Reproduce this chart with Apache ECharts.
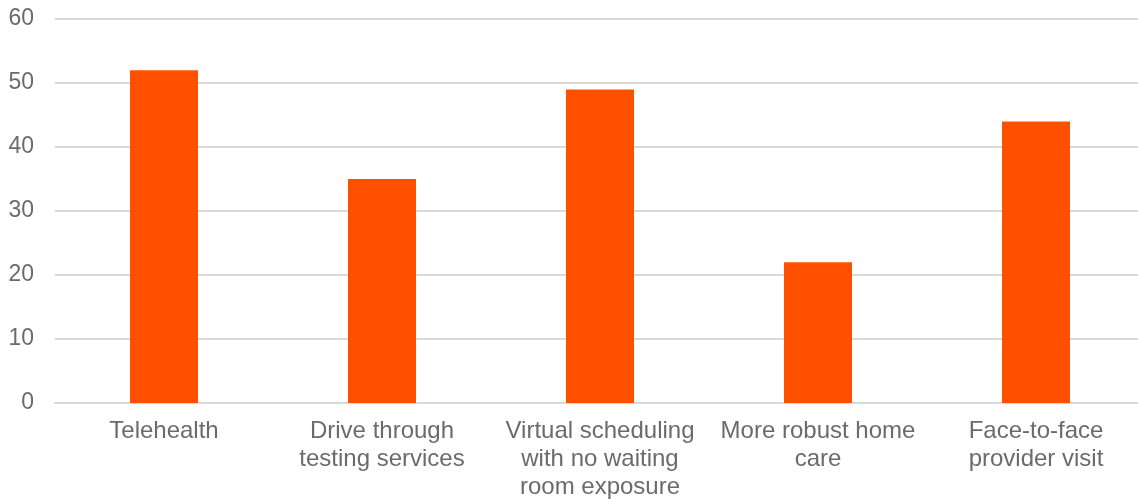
<!DOCTYPE html>
<html>
<head>
<meta charset="utf-8">
<script src="https://cdn.jsdelivr.net/npm/echarts@6/dist/echarts.min.js"></script>
<style>
  html, body { margin: 0; padding: 0; background: #fff; overflow: hidden; }
  #chart { width: 1138px; height: 499px; }
</style>
</head>
<body>
<div id="chart"></div>
<script>
// Categories (line breaks as shown under each bar)
const categories = [
  'Telehealth',
  'Drive through\ntesting services',
  'Virtual scheduling\nwith no waiting\nroom exposure',
  'More robust home\ncare',
  'Face-to-face\nprovider visit'
];
// Values per category
const values = [52, 35, 49, 22, 44];
// Value axis range
const yMin = 0;
const yMax = 60;
const yStep = 10;

const chart = echarts.init(document.getElementById('chart'));
chart.setOption({
  animation: false,
  textStyle: { fontFamily: '"Liberation Sans", Arial, sans-serif' },
  // the plot area runs slightly past the right edge of the canvas;
  // keep the rect exactly as given instead of fitting labels inside
  grid: {
    left: 55, top: 19, right: -7, bottom: 96,
    containLabel: false,
    outerBoundsMode: 'none'
  },
  xAxis: {
    type: 'category',
    data: categories,
    axisLine: { lineStyle: { color: '#d9d9d9', width: 2 } },
    axisTick: { show: false },
    axisLabel: {
      color: '#6b6b6b',
      fontSize: 24,
      lineHeight: 28,
      margin: 14,
      interval: 0
    }
  },
  yAxis: {
    type: 'value',
    min: yMin,
    max: yMax,
    interval: yStep,
    axisLine: { show: false },
    axisTick: { show: false },
    axisLabel: { color: '#6b6b6b', fontSize: 23, margin: 21 },
    splitLine: { lineStyle: { color: '#d9d9d9', width: 2 } }
  },
  series: [{
    type: 'bar',
    data: values,
    barWidth: 68,
    itemStyle: { color: '#ff5000' }
  }]
});
</script>
</body>
</html>
